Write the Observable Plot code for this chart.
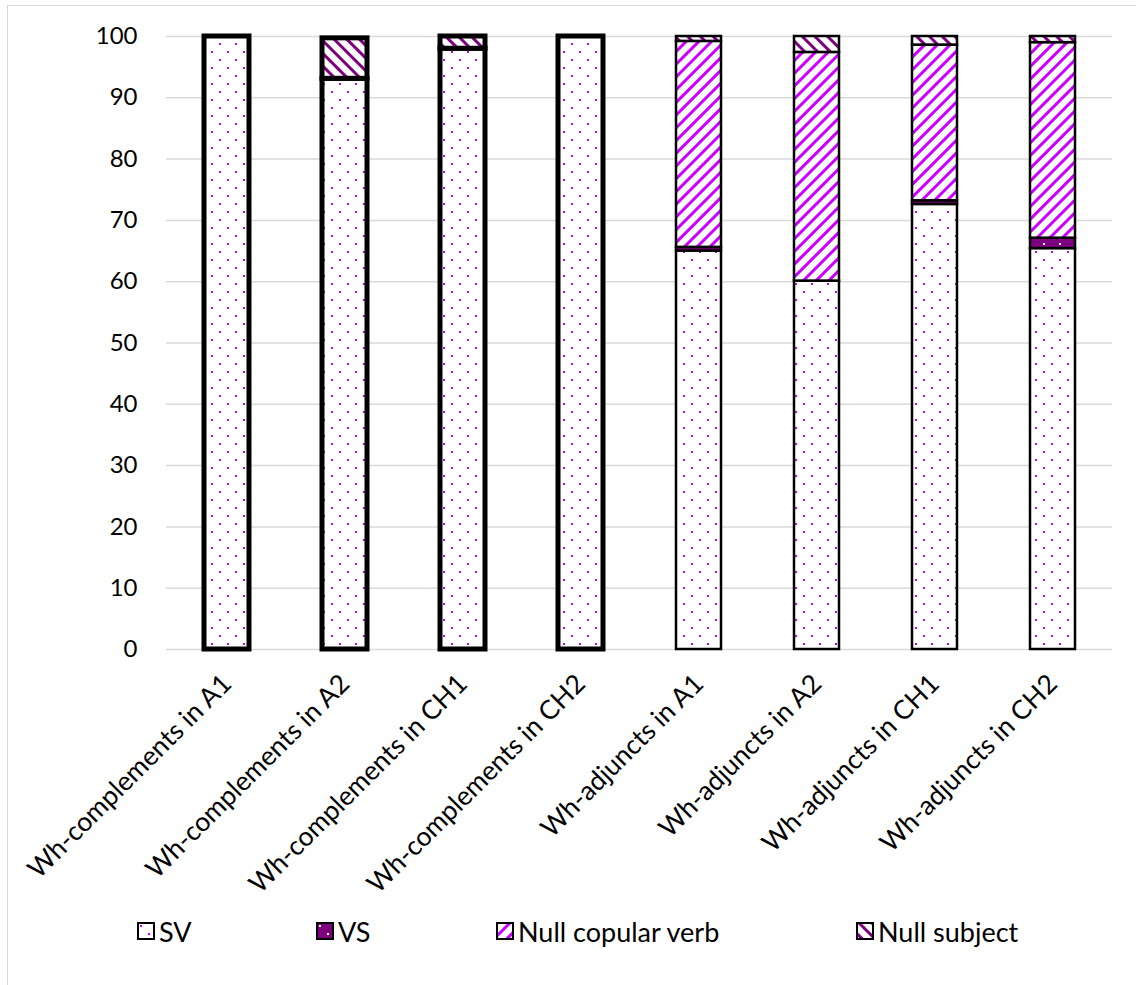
<!DOCTYPE html>
<html>
<head>
<meta charset="utf-8">
<script src="https://cdn.jsdelivr.net/npm/d3@7"></script>
<script src="https://cdn.jsdelivr.net/npm/@observablehq/plot@0.6"></script>
<style>
  html, body { margin: 0; padding: 0; background: #fff; }
  body { width: 1136px; height: 985px; position: relative; overflow: hidden; font-family: Lato, "Open Sans", sans-serif; }
  #frame { position: absolute; left: 7px; top: 5px; width: 1200px; height: 1100px; border: 1.5px solid #d9d9d9; box-sizing: border-box; }
  #chart { position: absolute; left: 0; top: 0; }
  #legend { position: absolute; left: 0; top: 0; width: 1136px; height: 985px; pointer-events: none; }
  .item { position: absolute; top: 916px; height: 30px; display: flex; align-items: center; font-size: 27px; color: #000; white-space: nowrap; }
  .item svg { margin-right: 4px; }
</style>
</head>
<body>
<div id="frame"></div>
<div id="chart"></div>
<div id="legend"></div>
<script>
// Word-order share (%) per question type and learner group
const categories = [
  "Wh-complements in A1", "Wh-complements in A2", "Wh-complements in CH1", "Wh-complements in CH2",
  "Wh-adjuncts in A1", "Wh-adjuncts in A2", "Wh-adjuncts in CH1", "Wh-adjuncts in CH2"
];
const seriesNames = ["SV", "VS", "Null copular verb", "Null subject"];
const sv          = [100, 93.1, 98, 100, 65.0, 60.1, 72.6, 65.4];
const vs          = [0,   0,    0,  0,   0.6,  0,    0.6,  1.7];
const nullCopular = [0,   0,    0,  0,   33.6, 37.3, 25.4, 31.9];
const nullSubject = [0,   6.6,  2,  0,   0.8,  2.6,  1.4,  1.0];
const yTicks = [0, 10, 20, 30, 40, 50, 60, 70, 80, 90, 100];

const seriesValues = [sv, vs, nullCopular, nullSubject];
const patternIds = ["pat-sv", "pat-vs", "pat-ncv", "pat-ns"];
const legendX = [137, 316, 496, 856];

const rows = [];
categories.forEach((c, i) => {
  seriesNames.forEach((s, k) => {
    const v = seriesValues[k][i];
    if (v > 0) rows.push({category: c, series: s, value: v, complement: c.startsWith("Wh-complements")});
  });
});

const chart = Plot.plot({
  width: 1136,
  height: 900,
  marginLeft: 166,
  marginRight: 24,
  marginTop: 36,
  marginBottom: 251,
  style: {fontFamily: "Lato, 'Open Sans', sans-serif", fontSize: "24px", color: "#000", background: "transparent", overflow: "visible"},
  x: {domain: categories, paddingInner: 0.62, paddingOuter: 0.31, align: 0.5, label: null, tickSize: 0, tickRotate: -45, tickPadding: 30},
  y: {domain: [0, 100], ticks: yTicks, label: null, tickSize: 0, tickPadding: 29},
  color: {domain: seriesNames, range: patternIds.map(id => `url(#${id})`)},
  marks: [
    Plot.ruleY(yTicks, {stroke: "#d9d9d9", strokeWidth: 1.5}),
    Plot.barY(rows, {
      x: "category",
      y: "value",
      z: "series",
      fill: "series",
      order: seriesNames,
      stroke: "#000",
      strokeWidth: d => d.complement ? 5 : 2.5
    })
  ]
});

// Category labels are set a little larger than the value ticks
d3.select(chart).selectAll("text")
  .filter(function() { return categories.includes(this.textContent); })
  .attr("font-size", 26.5);

// Fill patterns: dotted SV, dotted solid VS, striped null categories
const defs = d3.select(chart).insert("defs", ":first-child");
function dots(id, bg, fg) {
  const p = defs.append("pattern").attr("id", id).attr("patternUnits", "userSpaceOnUse")
    .attr("width", 16).attr("height", 16);
  p.append("rect").attr("width", 16).attr("height", 16).attr("fill", bg);
  p.append("rect").attr("x", 3).attr("y", 3).attr("width", 2).attr("height", 2).attr("fill", fg);
  p.append("rect").attr("x", 11).attr("y", 11).attr("width", 2).attr("height", 2).attr("fill", fg);
}
function stripes(id, fg, angle) {
  const p = defs.append("pattern").attr("id", id).attr("patternUnits", "userSpaceOnUse")
    .attr("width", 9).attr("height", 9).attr("patternTransform", `rotate(${angle})`);
  p.append("rect").attr("width", 9).attr("height", 9).attr("fill", "#fff");
  p.append("rect").attr("x", 0).attr("width", 3).attr("height", 9).attr("fill", fg);
}
dots("pat-sv", "#fff", "#cc00ff");
dots("pat-vs", "#7f007f", "#fff");
stripes("pat-ncv", "#cc00ff", 45);
stripes("pat-ns", "#7f007f", -45);

document.getElementById("chart").append(chart);

// Legend below the chart
const legend = document.getElementById("legend");
seriesNames.forEach((s, k) => {
  const item = document.createElement("div");
  item.className = "item";
  item.style.left = legendX[k] + "px";
  item.innerHTML = `<svg width="18" height="18"><rect x="1" y="1" width="16" height="16" fill="url(#${patternIds[k]})" stroke="#000" stroke-width="2"/></svg><span>${s}</span>`;
  legend.append(item);
});
</script>
</body>
</html>
